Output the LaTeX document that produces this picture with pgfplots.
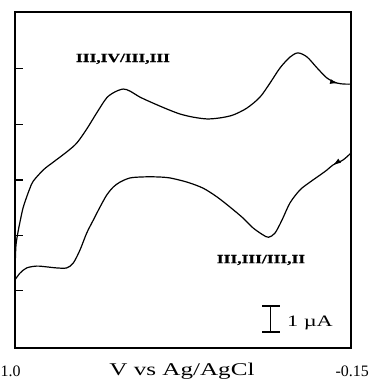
\documentclass[border=0pt]{standalone}
\usepackage{fontspec}
\setmainfont{Liberation Serif}
\newfontfamily\wideserif[FakeStretch=1.4]{Liberation Serif}
\newfontfamily\labfont[FakeStretch=1.4, BoldFeatures={FakeBold=1.2}]{Liberation Serif}
\usepackage{pgfplots}
\pgfplotsset{compat=1.18}
\usetikzlibrary{decorations.markings,arrows.meta}
\begin{document}
\begin{tikzpicture}
\useasboundingbox (-15bp,-35bp) rectangle (356bp,348bp);
\begin{axis}[
  width=336bp, height=336bp, scale only axis,
  x dir=reverse,
  xmin=-0.15, xmax=1.0, ymin=0, ymax=12.923,
  axis line style={line width=2bp},
  xtick=\empty,
  ytick={2.20,4.32,6.46,8.60,10.76},
  yticklabels={},
  ytick pos=left,
  tick align=inside,
  major tick length=8bp,
  every tick/.style={line width=1.3bp, black},
  clip=false,
]
\addplot[black, line width=1.2bp, smooth, postaction={decorate},
  decoration={markings, mark=at position -13bp with {\arrow{Latex[length=8bp,width=5bp]}}}]
 coordinates {
(0.999,3.31) (0.9966,3.96) (0.9897,4.46) (0.9829,4.85) (0.9726,5.38)
(0.9600,5.81) (0.9487,6.15) (0.9374,6.42) (0.9031,6.85) (0.8689,7.15)
(0.8231,7.54) (0.7888,7.88) (0.7546,8.42) (0.7204,9.04) (0.6862,9.62)
(0.6577,9.85) (0.6293,9.96) (0.6064,9.88) (0.5722,9.65) (0.5277,9.42)
(0.4798,9.19) (0.4353,9.00) (0.3908,8.88) (0.3429,8.81) (0.2984,8.85)
(0.2539,8.96) (0.2060,9.23) (0.1615,9.65) (0.1272,10.19) (0.0930,10.77)
(0.0588,11.19) (0.0314,11.35) (0.0002,11.19) (-0.0340,10.77) (-0.0682,10.38)
(-0.1021,10.19) (-0.1300,10.15) (-0.15,10.15)
};
\addplot[black, line width=1.2bp, smooth, postaction={decorate},
  decoration={markings, mark=at position -22bp with {\arrowreversed{Latex[length=8bp,width=5bp]}}}]
 coordinates {
(1.0,2.62) (0.9829,2.88) (0.9600,3.08) (0.9257,3.15) (0.8915,3.12)
(0.8573,3.08) (0.8231,3.08) (0.8005,3.27) (0.7775,3.77) (0.7546,4.42)
(0.7320,4.92) (0.7091,5.42) (0.6862,5.88) (0.6636,6.19) (0.6406,6.38)
(0.6064,6.54) (0.5619,6.58) (0.5140,6.58) (0.4695,6.54) (0.4113,6.38)
(0.3566,6.15) (0.3086,5.81) (0.2641,5.42) (0.2197,5.00) (0.1854,4.62)
(0.1512,4.35) (0.1320,4.26) (0.1101,4.42) (0.0862,4.92) (0.0588,5.58)
(0.0246,6.08) (-0.0096,6.38) (-0.0438,6.65) (-0.0682,6.85) (-0.0884,7.04)
(-0.1226,7.23) (-0.15,7.50)
};
% scale bar 1 uA
\addplot[black, line width=1.1bp] coordinates {(0.1249,0.6) (0.1249,1.6)};
\addplot[black, line width=2bp] coordinates {(0.1546,0.6) (0.0930,0.6)};
\addplot[black, line width=2bp] coordinates {(0.1546,1.6) (0.0930,1.6)};
\node at (axis cs:-0.0097,0.96) {\wideserif\fontsize{16}{18}\selectfont 1 µA};
\node at (axis cs:0.6304,11.12) {\labfont\bfseries\fontsize{12.5}{14}\selectfont III,IV/III,III};
\node at (axis cs:0.158,3.385) {\labfont\bfseries\fontsize{12.5}{14}\selectfont III,III/III,II};
\end{axis}
\node[anchor=west, inner sep=0pt] at (-14.5bp,-23bp) {\fontsize{16}{18}\selectfont 1.0};
\node at (167bp,-23bp) {\wideserif\fontsize{18}{20}\selectfont V vs Ag/AgCl};
\node[anchor=east, inner sep=0pt] at (354bp,-23bp) {\fontsize{16}{18}\selectfont -0.15};
\end{tikzpicture}
\end{document}
